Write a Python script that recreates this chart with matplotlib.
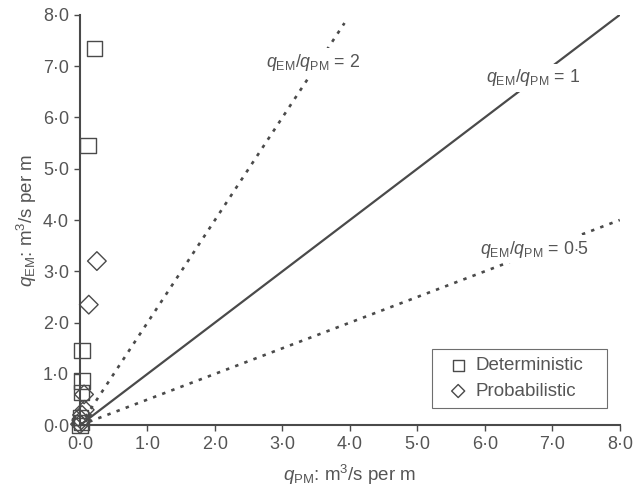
import matplotlib.pyplot as plt
import numpy as np

plt.rcParams['font.family'] = ['Liberation Sans', 'DejaVu Sans']
plt.rcParams['mathtext.fontset'] = 'custom'
plt.rcParams['mathtext.rm'] = 'Liberation Sans'
plt.rcParams['mathtext.it'] = 'Liberation Sans:italic'

# data (m3/s per m)
det_pm = [0.22, 0.12, 0.03, 0.03, 0.02, 0.01, 0.02, 0.0]
det_em = [7.35, 5.45, 1.45, 0.86, 0.63, 0.15, 0.05, 0.0]
prob_pm = [0.25, 0.13, 0.06, 0.07, 0.03, 0.02, 0.0]
prob_em = [3.2, 2.35, 0.6, 0.3, 0.2, 0.1, 0.02]

ratios = [2, 1, 0.5]
ratio_xmax = [3.92, 8.0, 8.0]
ratio_labels = [r'$q_{\rm EM}/q_{\rm PM}$ = 2', r'$q_{\rm EM}/q_{\rm PM}$ = 1',
                r'$q_{\rm EM}/q_{\rm PM}$ = 0$\cdot$5']
label_pos = [(3.45, 7.08), (6.71, 6.77), (6.73, 3.43)]

ticks = np.arange(0, 9)
tick_labels = ['%d·0' % t for t in ticks]

grey = '#4a4a4a'
txt = '#555555'

fig = plt.figure(figsize=(6.35, 4.95), dpi=100)
ax = fig.add_axes([0.126, 0.141, 0.850, 0.829])

for r, xm, lab, pos in zip(ratios, ratio_xmax, ratio_labels, label_pos):
    xs = np.array([0, xm])
    if r == 1:
        ax.plot(xs, r * xs, color=grey, lw=1.6, zorder=2)
    else:
        ax.plot(xs, r * xs, color=grey, lw=1.9, dashes=(1.3, 2.4), zorder=2)
    ax.text(pos[0], pos[1], lab, ha='center', va='center', fontsize=12.8, color=txt,
            bbox=dict(facecolor='white', edgecolor='none', pad=2.5), zorder=3)

ax.scatter(det_pm, det_em, marker='s', s=120, facecolors='none', edgecolors=grey,
           linewidths=1.0, label='Deterministic', zorder=4, clip_on=False)
ax.scatter(prob_pm, prob_em, marker='D', s=90, facecolors='none', edgecolors=grey,
           linewidths=1.0, label='Probabilistic', zorder=4, clip_on=False)

ax.set_xlim(0, 8)
ax.set_ylim(0, 8)
ax.set_xticks(ticks)
ax.set_xticklabels(tick_labels)
ax.set_yticks(ticks)
ax.set_yticklabels(tick_labels)
ax.tick_params(colors=grey, labelcolor=txt, labelsize=13, length=4, width=1, pad=4)
for s in ['top', 'right']:
    ax.spines[s].set_visible(False)
for s in ['left', 'bottom']:
    ax.spines[s].set_color(grey)
    ax.spines[s].set_linewidth(1.5)

ax.set_xlabel(r'$q_{\rm PM}$: m$^3$/s per m', fontsize=13.5, color=txt, labelpad=7)
ax.set_ylabel(r'$q_{\rm EM}$: m$^3$/s per m', fontsize=13.5, color=txt, labelpad=3)

leg = ax.legend(loc='lower left', bbox_to_anchor=(0.652, 0.041, 0.324, 0.154),
                mode='expand', borderaxespad=0, fontsize=13.5, frameon=True,
                fancybox=False, handletextpad=0.0, handlelength=1.9, borderpad=0.45,
                labelspacing=0.45, markerscale=0.7)
leg.get_frame().set_edgecolor(grey)
leg.get_frame().set_linewidth(0.8)
for t in leg.get_texts():
    t.set_color(txt)

fig.savefig('out.png', dpi=100)
